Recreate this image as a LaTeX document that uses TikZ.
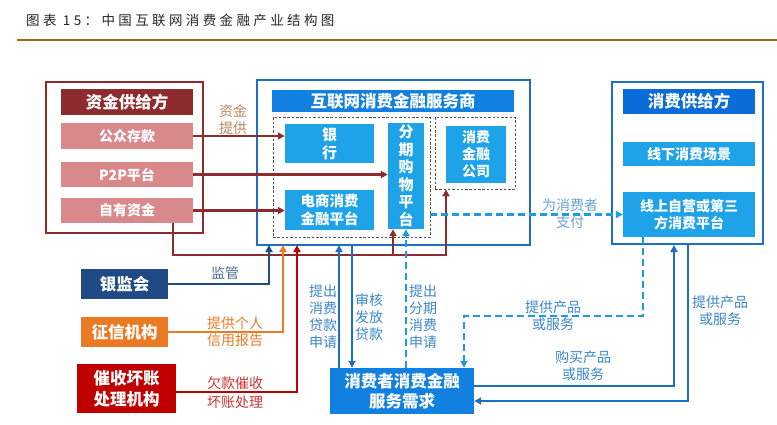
\documentclass[tikz,border=0pt]{standalone}
\usepackage{fontspec}
\setmainfont{Noto Sans CJK SC}
\newfontfamily\titlefont[LetterSpace=25]{Noto Sans CJK SC}
\usetikzlibrary{arrows.meta}
\definecolor{dred}{HTML}{8E2B2E}
\definecolor{pinkf}{HTML}{D9888B}
\definecolor{navy}{HTML}{1F4A85}
\definecolor{orng}{HTML}{EB7A24}
\definecolor{rred}{HTML}{C00000}
\definecolor{bborder}{HTML}{1E6FC2}
\definecolor{bhead}{HTML}{1180E0}
\definecolor{blight}{HTML}{1EA2E8}
\definecolor{bdark}{HTML}{0A6CD8}
\definecolor{lblue}{HTML}{3C87C8}
\definecolor{lblue2}{HTML}{6AA3D6}
\definecolor{tanc}{HTML}{B8875C}
\definecolor{rulec}{HTML}{A5660F}
\definecolor{dashgray}{HTML}{505050}
\begin{document}
\begin{tikzpicture}[x=1pt,y=-1pt,
  box/.style={rectangle, inner sep=0pt, align=center, text=white,
    font=\bfseries\fontsize{14}{17}\selectfont},
  bigf/.style={font=\bfseries\fontsize{16.5}{20}\selectfont},
  outer/.style={rectangle, draw, line width=2pt, inner sep=0pt},
  dashbox/.style={rectangle, draw=dashgray, line width=0.7pt, dash pattern=on 2.5pt off 1.8pt, inner sep=0pt},
  tip/.style={-{Triangle[length=7pt,width=7pt]}},
  conn/.style={line width=2.6pt, tip},
  bdash/.style={line width=2.6pt, draw=blight!85!bborder, dash pattern=on 7pt off 4pt, tip},
  lbl/.style={align=center, inner sep=0pt, font=\fontsize{14}{17}\selectfont}
]
\useasboundingbox (0,0) rectangle (777,424);
\fill[white] (0,0) rectangle (777,424);

% title
\node[anchor=west, inner sep=0pt, font=\titlefont\fontsize{13.5}{15}\selectfont, text=black!85] (title) at (26,20) {图表 15：中国互联网消费金融产业结构图};
\coordinate (rl) at (17,40);
\coordinate (rr) at (777,40);
\draw[rulec, line width=2pt] (rl) -- (rr);

% left funding box
\node[outer, draw=dred, minimum width=157pt, minimum height=151pt] (lbox) at (124.5,157.5) {};
\node[box, bigf, fill=dred, minimum width=132pt, minimum height=26pt] (zh) at (127,102) {资金供给方};
\node[box, fill=pinkf, minimum width=132pt, minimum height=26pt] (gz) at (127,136) {公众存款};
\node[box, fill=pinkf, minimum width=132pt, minimum height=25pt] (p2p) at (127,174.5) {P2P平台};
\node[box, fill=pinkf, minimum width=132pt, minimum height=25pt] (zy) at (127,210.5) {自有资金};

% middle service box
\node[outer, draw=bborder, minimum width=273pt, minimum height=165pt] (mid) at (393.5,162.5) {};
\node[box, bigf, fill=bhead, minimum width=242pt, minimum height=22pt] (midh) at (393,101) {互联网消费金融服务商};
\node[dashbox, minimum width=157pt, minimum height=120pt] (d1) at (351.5,177) {};
\node[dashbox, minimum width=80pt, minimum height=72pt] (d2) at (475,153) {};
\node[box, fill=blight, font=\bfseries\fontsize{15}{18}\selectfont, minimum width=89pt, minimum height=39pt] (bank) at (329.5,143.5) {银\\行};
\node[box, fill=blight, font=\bfseries\fontsize{14.5}{18}\selectfont, minimum width=89pt, minimum height=40pt] (ecom) at (329.5,210) {电商消费\\金融平台};
\node[box, fill=blight, font=\bfseries\fontsize{15}{17.5}\selectfont, minimum width=36pt, minimum height=106pt] (fq) at (406,176) {分\\期\\购\\物\\平\\台};
\node[box, fill=blight, minimum width=60pt, minimum height=57pt] (xj) at (476,154.5) {消费\\金融\\公司};

% right supply box
\node[outer, draw=bborder, minimum width=151pt, minimum height=162pt] (rbox) at (687.5,163) {};
\node[box, bigf, fill=bdark, minimum width=132pt, minimum height=25pt] (rh) at (689,101.5) {消费供给方};
\node[box, fill=blight, minimum width=132pt, minimum height=24pt] (xx) at (689,154) {线下消费场景};
\node[box, fill=blight, minimum width=132pt, minimum height=45pt] (xs) at (689,214.5) {线上自营或第三\\方消费平台};

% lower-left institutions
\node[box, bigf, fill=navy, minimum width=87pt, minimum height=30pt] (yjh) at (124.5,284) {银监会};
\node[box, bigf, fill=orng, minimum width=87pt, minimum height=30pt] (zx) at (124.5,332) {征信机构};
\node[box, font=\bfseries\fontsize{16.5}{21}\selectfont, fill=rred, minimum width=99pt, minimum height=49pt] (cs) at (126.5,388.5) {催收坏账\\处理机构};

% consumer demand
\node[box, font=\bfseries\fontsize{16.5}{20}\selectfont, fill=bhead, minimum width=144pt, minimum height=46pt] (xf) at (402,391) {消费者消费金融\\服务需求};

% coordinates
\coordinate (r1) at (173,255);
\coordinate (r2) at (446,255);
\coordinate (r3) at (393,255);
\coordinate (m1) at (269,245);
\coordinate (m2) at (283,245);
\coordinate (m3) at (297,245);
\coordinate (m4) at (339,245);
\coordinate (m5) at (352,245);
\coordinate (c7) at (643,316);
\coordinate (c8) at (464,316);
\coordinate (c9) at (674,386);
\coordinate (c10) at (688,401);

% funding arrows
\draw[conn, draw=dred] (gz.east) -- (gz.east -| bank.west);
\draw[conn, draw=dred] (p2p.east) -- (p2p.east -| fq.west);
\draw[conn, draw=dred] (zy.east) -- (zy.east -| ecom.west);
\draw[conn, draw=dred] (zy.south -| r1) -- (r1) -- (r2) -- (r2 |- d2.south);
\draw[conn, draw=dred] (r3) -- (r3 |- fq.south);

% institutions to middle box
\draw[conn, draw=navy] (yjh.east) -| (m1);
\draw[conn, draw=orng] (zx.east) -| (m2);
\draw[conn, draw=rred] (cs.east |- 0,392) -| (m3);

% middle box <-> consumer
\draw[conn, draw=bborder] (m4 |- xf.north) -- (m4);
\draw[conn, draw=bborder] (m5) -- (m5 |- xf.north);
\draw[bdash] (xf.north -| fq.south) -- (fq.south);

% payment and supply
\draw[bdash] (xs.west -| d1.east) -- (xs.west);
\draw[bdash] (c7 |- xs.south) -- (c7) -- (c8) -- (c8 |- xf.north);
\draw[conn, draw=bborder] (xf.east |- c9) -- (c9) -- (c9 |- rbox.south);
\draw[conn, draw=bborder] (c10 |- rbox.south) -- (c10) -- (c10 -| xf.east);

% labels
\node[lbl, text=tanc] (l1) at (233,120) {资金\\提供};
\node[lbl, text=navy!80] (l2) at (225,273) {监管};
\node[lbl, text=orng] (l3) at (235,331.5) {提供个人\\信用报告};
\node[lbl, text=rred!80, font=\fontsize{14}{19}\selectfont] (l4) at (235,392.5) {欠款催收\\坏账处理};
\node[lbl, text=lblue] (l5) at (323,317) {提出\\消费\\贷款\\申请};
\node[lbl, text=lblue] (l6) at (369,317) {审核\\发放\\贷款};
\node[lbl, text=lblue] (l7) at (423,317) {提出\\分期\\消费\\申请};
\node[lbl, text=lblue2] (l8) at (570,214) {为消费者\\支付};
\node[lbl, text=lblue] (l9) at (553,316) {提供产品\\或服务};
\node[lbl, text=lblue] (l10) at (583,366) {购买产品\\或服务};
\node[lbl, text=lblue] (l11) at (720,311) {提供产品\\或服务};
\end{tikzpicture}
\end{document}
